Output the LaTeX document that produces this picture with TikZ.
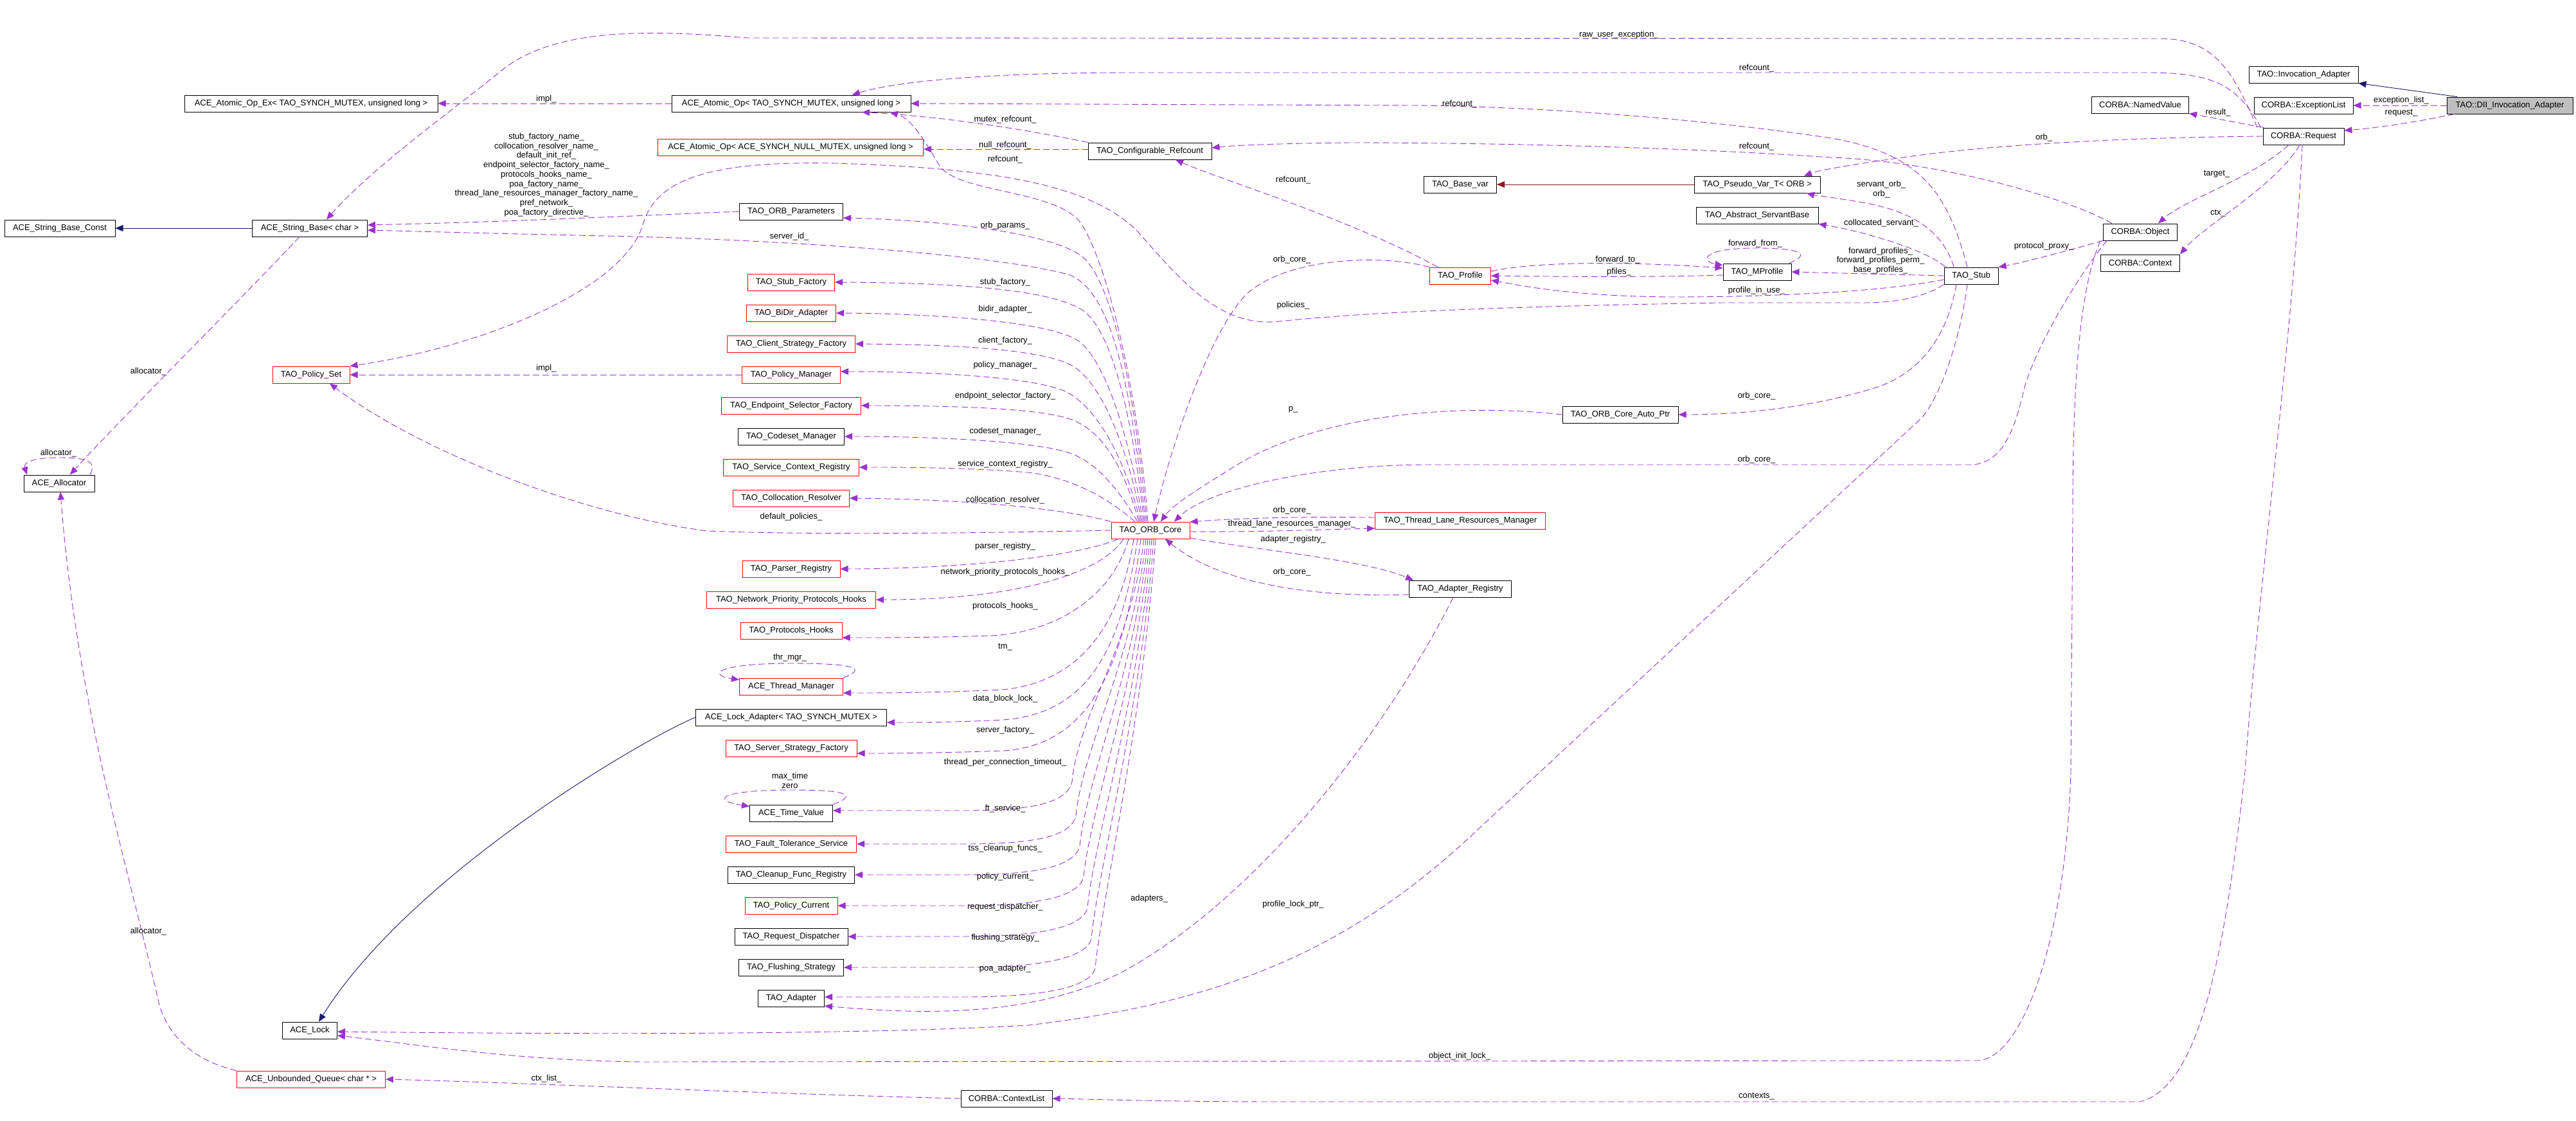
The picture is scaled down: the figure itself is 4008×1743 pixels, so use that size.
\documentclass[tikz,border=0pt]{standalone}
\usepackage{fontspec}
\setmainfont{Liberation Sans}
\usetikzlibrary{arrows.meta}
\definecolor{edgec}{HTML}{9A32CD}
\definecolor{inhc}{HTML}{191970}
\definecolor{tmplc}{HTML}{8B1A1A}
\definecolor{maing}{HTML}{BFBFBF}
\newcommand\dxf{\fontsize{13}{14.7}\selectfont}
\tikzset{
 cls/.style={draw=black, fill=white, line width=1pt, minimum height=26pt, inner sep=0pt, font=\dxf},
 rcls/.style={cls, draw=red},
 mcls/.style={cls, fill=maing},
 use/.style={draw=edgec, line width=0.9pt, dash pattern=on 10pt off 5pt, -{Triangle[length=12pt,width=10pt]}},
 inh/.style={draw=inhc, line width=0.9pt, -{Triangle[length=12pt,width=10pt]}},
 tmpl/.style={draw=tmplc, line width=0.9pt, -{Triangle[length=12pt,width=10pt]}},
 lbl/.style={font=\dxf, inner sep=0pt, align=center},
}
\begin{document}
\begin{tikzpicture}[x=1pt,y=-1pt]
\useasboundingbox (0,0) rectangle (4008,1743);
\fill[white] (0,0) rectangle (4008,1743);

% ---------- nodes ----------
\node[mcls,minimum width=196pt] (dii) at (3905,164) {TAO::DII\_Invocation\_Adapter};
\node[cls,minimum width=170pt] (invad) at (3584,116) {TAO::Invocation\_Adapter};
\node[cls,minimum width=154pt] (exlist) at (3584,164) {CORBA::ExceptionList};
\node[cls,minimum width=151pt] (namedval) at (3330,163) {CORBA::NamedValue};
\node[cls,minimum width=126pt] (request) at (3584,212) {CORBA::Request};
\node[cls,minimum width=115pt] (object) at (3330,361) {CORBA::Object};
\node[cls,minimum width=123pt] (context) at (3330,409) {CORBA::Context};
\node[cls,minimum width=84pt] (stub) at (3067,429) {TAO\_Stub};
\node[cls,minimum width=106pt] (mprofile) at (2734,423) {TAO\_MProfile};
\node[cls,minimum width=196pt] (pseudo) at (2734,287) {TAO\_Pseudo\_Var\_T< ORB >};
\node[cls,minimum width=190pt] (servant) at (2734,335) {TAO\_Abstract\_ServantBase};
\node[cls,minimum width=113pt] (basevar) at (2272,287) {TAO\_Base\_var};
\node[rcls,minimum width=95pt] (profile) at (2272,429) {TAO\_Profile};
\node[cls,minimum width=192pt] (confref) at (1789,235) {TAO\_Configurable\_Refcount};
\node[cls,minimum width=372pt] (atomic) at (1231,161) {ACE\_Atomic\_Op< TAO\_SYNCH\_MUTEX, unsigned long >};
\node[rcls,minimum width=413pt] (atomicnull) at (1230,229) {ACE\_Atomic\_Op< ACE\_SYNCH\_NULL\_MUTEX, unsigned long >};
\node[cls,minimum width=394pt] (atomicex) at (484,161) {ACE\_Atomic\_Op\_Ex< TAO\_SYNCH\_MUTEX, unsigned long >};
\node[cls,minimum width=172pt] (strconst) at (93,355) {ACE\_String\_Base\_Const};
\node[cls,minimum width=179pt] (strbase) at (482,355) {ACE\_String\_Base< char >};
\node[cls,minimum width=110pt] (allocator) at (92,752) {ACE\_Allocator};
\node[rcls,minimum width=120pt] (policyset) at (484,583) {TAO\_Policy\_Set};
\node[cls,minimum width=161pt] (orbparams) at (1231,329) {TAO\_ORB\_Parameters};
\node[rcls,minimum width=135pt] (stubfac) at (1231,439) {TAO\_Stub\_Factory};
\node[rcls,minimum width=139pt] (bidir) at (1231,487) {TAO\_BiDir\_Adapter};
\node[rcls,minimum width=199pt] (clientfac) at (1231,535) {TAO\_Client\_Strategy\_Factory};
\node[rcls,minimum width=153pt] (policymgr) at (1231,583) {TAO\_Policy\_Manager};
\node[rcls,minimum width=217pt] (endpoint) at (1231,631) {TAO\_Endpoint\_Selector\_Factory};
\node[cls,minimum width=165pt] (codeset) at (1231,679) {TAO\_Codeset\_Manager};
\node[rcls,minimum width=211pt] (servctx) at (1231,727) {TAO\_Service\_Context\_Registry};
\node[rcls,minimum width=181pt] (colloc) at (1231,775) {TAO\_Collocation\_Resolver};
\node[rcls,minimum width=122pt] (orbcore) at (1790,825) {TAO\_ORB\_Core};
\node[rcls,minimum width=152pt] (parser) at (1231,885) {TAO\_Parser\_Registry};
\node[rcls,minimum width=263pt] (netprio) at (1231,933) {TAO\_Network\_Priority\_Protocols\_Hooks};
\node[rcls,minimum width=158pt] (protohooks) at (1231,981) {TAO\_Protocols\_Hooks};
\node[rcls,minimum width=161pt] (thrmgr) at (1231,1068) {ACE\_Thread\_Manager};
\node[cls,minimum width=297pt] (lockad) at (1231,1116) {ACE\_Lock\_Adapter< TAO\_SYNCH\_MUTEX >};
\node[rcls,minimum width=204pt] (serverfac) at (1231,1164) {TAO\_Server\_Strategy\_Factory};
\node[cls,minimum width=129pt] (timeval) at (1231,1265) {ACE\_Time\_Value};
\node[rcls,minimum width=203pt] (ftserv) at (1231,1313) {TAO\_Fault\_Tolerance\_Service};
\node[cls,minimum width=197pt] (cleanup) at (1231,1361) {TAO\_Cleanup\_Func\_Registry};
\node[rcls,minimum width=144pt] (polcur) at (1231,1409) {TAO\_Policy\_Current};
\node[cls,minimum width=176pt] (reqdisp) at (1231,1457) {TAO\_Request\_Dispatcher};
\node[cls,minimum width=163pt] (flushing) at (1231,1505) {TAO\_Flushing\_Strategy};
\node[cls,minimum width=103pt] (adapter) at (1231,1553) {TAO\_Adapter};
\node[cls,minimum width=85pt] (acelock) at (482,1603) {ACE\_Lock};
\node[rcls,minimum width=231pt] (unbq) at (484,1679) {ACE\_Unbounded\_Queue< char * >};
\node[cls,minimum width=142pt] (ctxlist) at (1566,1709) {CORBA::ContextList};
\node[rcls,minimum width=265pt] (tlrm) at (2272,810) {TAO\_Thread\_Lane\_Resources\_Manager};
\node[cls,minimum width=159pt] (adreg) at (2272,916) {TAO\_Adapter\_Registry};
\node[cls,minimum width=180pt] (autoptr) at (2521,645) {TAO\_ORB\_Core\_Auto\_Ptr};

% ---------- inheritance ----------
\draw[inh] (strbase.west) -- (strconst.east);
\draw[inh] ([xshift=-82pt]dii.north) -- (invad.south east);
\draw[inh] (lockad.west) .. controls (1000,1150) and (640,1360) .. ([xshift=14pt]acelock.north);
\draw[tmpl] (pseudo.west) -- (basevar.east);

% ---------- DII ----------
\draw[use] (dii.west) -- (exlist.east);
\draw[use] ([xshift=-86pt]dii.south) .. controls (3760,190) and (3690,200) .. ([yshift=9pt]request.east);

% ---------- Request ----------
\draw[use] ([xshift=-62pt]request.north) -- (namedval.south east);
\draw[use] ([xshift=-23pt]request.south) .. controls (3500,280) and (3400,310) .. ([xshift=28pt]object.north);
\draw[use] ([xshift=-6pt]request.south) .. controls (3540,290) and (3430,350) .. (context.north east);
\draw[use] (request.west) .. controls (3300,214) and (3100,225) .. (2960,245) .. controls (2880,256) and (2830,265) .. ([xshift=73pt]pseudo.north);
\draw[use] ([xshift=-72pt]request.north) .. controls (3470,100) and (3440,60) .. (3358,60) -- (1162,59) .. controls (1000,45) and (860,45) .. (780,110) .. controls (700,175) and (580,260) .. ([xshift=26pt]strbase.north);
\draw[use] ([xshift=-66pt]request.north) .. controls (3480,130) and (3440,113) .. (3341,113) -- (1767,113) .. controls (1550,113) and (1400,125) .. ([xshift=95pt]atomic.north);
\draw[use] ([xshift=-2pt]request.south) .. controls (3570,500) and (3510,950) .. (3493,1200) .. controls (3460,1500) and (3420,1690) .. (3330,1714) -- (2000,1714) .. controls (1800,1714) and (1700,1710) .. (ctxlist.east);

% ---------- Object ----------
\draw[use] (object.south west) .. controls (3200,395) and (3140,410) .. (stub.north east);
\draw[use] ([xshift=-44pt]object.north) .. controls (3200,300) and (3000,250) .. (2849,245) .. controls (2600,228) and (2300,222) .. (2100,222) .. controls (2000,223) and (1920,226) .. ([yshift=5pt]confref.east);
\draw[use] ([xshift=-52pt]object.south) .. controls (3240,420) and (3165,540) .. (3148,610) .. controls (3132,680) and (3110,723) .. (3065,723) -- (2220,723) .. controls (2050,723) and (1880,760) .. ([xshift=37pt]orbcore.north);
\draw[use] ([xshift=-62pt]object.south) .. controls (3235,450) and (3225,600) .. (3225,800) -- (3222,1200) .. controls (3215,1450) and (3150,1645) .. (3078,1650) -- (1000,1652) .. controls (800,1650) and (650,1625) .. ([yshift=-8pt]acelock.east);

% ---------- Stub ----------
\draw[use] ([xshift=-6pt]stub.north) .. controls (3030,300) and (2990,240) .. (2850,215) .. controls (2650,185) and (2400,166) .. (2200,164) -- (atomic.east);
\draw[use] ([xshift=-27pt]stub.north) .. controls (3020,350) and (2960,325) .. (2892,314) .. controls (2850,307) and (2820,303) .. ([xshift=77pt]pseudo.south);
\draw[use] ([xshift=-40pt]stub.north) .. controls (3000,390) and (2900,360) .. (servant.south east);
\draw[use] (stub.west) -- (mprofile.east);
\draw[use] ([yshift=-6pt]stub.west) .. controls (2950,450) and (2800,462) .. (2600,462) .. controls (2450,461) and (2370,445) .. ([yshift=-7pt]profile.east);
\draw[use] (stub.south west) .. controls (2995,462) and (2950,471) .. (2900,471) -- (2680,471) .. controls (2400,476) and (2150,483) .. (1990,500) .. controls (1900,510) and (1840,440) .. (1770,360) .. controls (1700,290) and (1560,262) .. (1300,254) .. controls (1100,250) and (1020,280) .. (1000,350) .. controls (970,450) and (750,540) .. (policyset.north east);
\draw[use] ([xshift=-23pt]stub.south) .. controls (3030,520) and (2990,585) .. (2905,607) .. controls (2820,632) and (2720,645) .. (autoptr.east);
\draw[use] ([xshift=-6pt]stub.south) .. controls (3048,540) and (3015,622) .. (2990,650) -- (2300,1290) .. controls (2100,1480) and (1900,1560) .. (1600,1595) .. controls (1300,1612) and (800,1608) .. ([yshift=-2pt]acelock.east);

% ---------- MProfile / Profile ----------
\draw[use] ([xshift=-4pt]mprofile.north east) .. controls (2820,395) and (2800,386) .. (2733,386) .. controls (2640,386) and (2650,408) .. ([yshift=-3pt]mprofile.north west);
\draw[use] ([yshift=-5pt]mprofile.west) .. controls (2550,432) and (2400,430) .. (profile.east);
\draw[use] ([yshift=7pt]profile.east) .. controls (2400,405) and (2550,408) .. ([yshift=6pt]mprofile.west);
\draw[use] ([xshift=-35pt]profile.north) .. controls (2100,340) and (1900,280) .. ([xshift=40pt]confref.south);
\draw[use] (profile.north west) .. controls (2150,395) and (2000,400) .. (1938,459) .. controls (1880,520) and (1820,700) .. ([xshift=5pt]orbcore.north);

% ---------- Refcount / Atomic ----------
\draw[use] (confref.north west) .. controls (1580,198) and (1450,180) .. ([xshift=110pt]atomic.south);
\draw[use] ([yshift=3pt]confref.west) -- ([yshift=-3pt]atomicnull.east);
\draw[use] (atomic.west) -- (atomicex.east);
\draw[use] (policymgr.west) -- (policyset.east);
\draw[use] (orbparams.west) .. controls (1000,335) and (800,345) .. ([yshift=5pt]strbase.east);

% ---------- Allocator ----------
\draw[use] ([xshift=-16pt]strbase.south) .. controls (380,460) and (180,660) .. ([xshift=17pt]allocator.north);
\draw[use] ([xshift=48pt]allocator.north) .. controls (152,716) and (132,712) .. (92,712) .. controls (50,712) and (36,720) .. ([xshift=-50pt]allocator.north);
\draw[use] (unbq.north west) .. controls (300,1650) and (262,1610) .. (248,1564) .. controls (200,1350) and (120,1100) .. ([xshift=2pt]allocator.south);
\draw[use] (ctxlist.west) .. controls (1200,1702) and (800,1684) .. (unbq.east);

% ---------- ORB_Core right side ----------
\draw[use] (orbcore.west) .. controls (1500,830) and (1250,832) .. (1100,826) .. controls (900,800) and (650,700) .. ([xshift=29pt]policyset.south);
\draw[use] ([yshift=5pt]tlrm.west) .. controls (2000,803) and (1900,808) .. ([yshift=13pt]orbcore.east);
\draw[use] ([yshift=-2pt]orbcore.east) .. controls (1950,828) and (2050,824) .. ([yshift=-12pt]tlrm.west);
\draw[use] ([yshift=-12pt]orbcore.east) .. controls (1950,855) and (2120,870) .. ([xshift=-73pt]adreg.north);
\draw[use] ([yshift=-9pt]adreg.west) .. controls (2050,930) and (1900,910) .. ([xshift=23pt]orbcore.south);
\draw[use] (autoptr.west) .. controls (2250,625) and (2050,650) .. (1930,720) .. controls (1865,760) and (1825,785) .. ([xshift=16pt]orbcore.north);
\draw[use] ([xshift=-11pt]adreg.south) .. controls (2150,1150) and (1950,1400) .. (1750,1510) .. controls (1600,1590) and (1400,1575) .. ([yshift=-12pt]adapter.east);

% ---------- ORB_Core upper fan ----------
\draw[use] ([xshift=-4pt]orbcore.north) .. controls (1770,600) and (1720,400) .. (1680,345) .. controls (1640,295) and (1490,300) .. (1462,258) .. controls (1442,225) and (1420,185) .. ([xshift=154pt]atomic.south);
\draw[use] ([xshift=-8pt]orbcore.north) .. controls (1760,600) and (1730,455) .. (1665,428) .. controls (1550,395) and (1200,372) .. (940,367) .. controls (800,364) and (650,360) .. ([yshift=-3pt]strbase.east);
\draw[use] ([xshift=-6pt]orbcore.north) .. controls (1765,600) and (1730,440) .. (1685,400) .. controls (1635,360) and (1450,342) .. ([yshift=-10pt]orbparams.east);
\draw[use] ([xshift=-10pt]orbcore.north) .. controls (1762,650) and (1732,525) .. (1690,487) .. controls (1650,452) and (1500,440) .. (stubfac.east);
\draw[use] ([xshift=-12pt]orbcore.north) .. controls (1760,690) and (1722,565) .. (1680,532) .. controls (1640,500) and (1450,488) .. (bidir.east);
\draw[use] ([xshift=-14pt]orbcore.north) .. controls (1758,710) and (1718,600) .. (1670,570) .. controls (1620,540) and (1450,536) .. (clientfac.east);
\draw[use] ([xshift=-16pt]orbcore.north) .. controls (1755,730) and (1715,640) .. (1660,610) .. controls (1600,582) and (1400,578) .. ([yshift=5pt]policymgr.east);
\draw[use] ([xshift=-18pt]orbcore.north) .. controls (1752,740) and (1722,672) .. (1665,652) .. controls (1610,633) and (1450,631) .. (endpoint.east);
\draw[use] ([xshift=-20pt]orbcore.north) .. controls (1745,770) and (1712,722) .. (1665,705) .. controls (1610,686) and (1450,679) .. (codeset.east);
\draw[use] ([xshift=-24pt]orbcore.north) .. controls (1735,785) and (1680,745) .. (1600,735) .. controls (1500,727) and (1400,727) .. (servctx.east);
\draw[use] (orbcore.north west) .. controls (1650,790) and (1500,777) .. (colloc.east);

% ---------- ORB_Core lower fan ----------
\draw[use] ([xshift=-50pt]orbcore.south) .. controls (1680,865) and (1500,885) .. (parser.east);
\draw[use] ([xshift=-42pt]orbcore.south) .. controls (1715,890) and (1590,933) .. (netprio.east);
\draw[use] ([xshift=-34pt]orbcore.south) .. controls (1730,930) and (1640,985) .. (1540,989) .. controls (1450,992) and (1380,992) .. ([yshift=-11pt]protohooks.east);
\draw[use] ([xshift=-26pt]orbcore.south) .. controls (1745,960) and (1690,1060) .. (1560,1073) .. controls (1450,1078) and (1380,1078) .. ([yshift=-10pt]thrmgr.east);
\draw[use] ([xshift=-20pt]orbcore.south) .. controls (1745,1000) and (1700,1110) .. (1560,1120) .. controls (1480,1124) and (1420,1124) .. ([yshift=-8pt]lockad.east);
\draw[use] ([xshift=-15pt]orbcore.south) .. controls (1750,1030) and (1700,1160) .. (1560,1168) .. controls (1450,1172) and (1380,1172) .. ([yshift=-8pt]serverfac.east);
\draw[use] ([xshift=-10pt]orbcore.south) .. controls (1760,1007) and (1678,1111) .. (1668,1216) .. controls (1660,1251) and (1600,1261) .. (1500,1261) -- ([yshift=4pt]timeval.east);
\draw[use] ([xshift=-7pt]orbcore.south) .. controls (1763,1028) and (1684,1164) .. (1674,1269) .. controls (1666,1304) and (1600,1313) .. (1500,1313) -- (ftserv.east);
\draw[use] ([xshift=-4pt]orbcore.south) .. controls (1766,1047) and (1690,1211) .. (1680,1316) .. controls (1672,1351) and (1600,1361) .. (1500,1361) -- (cleanup.east);
\draw[use] ([xshift=-1pt]orbcore.south) .. controls (1769,1066) and (1696,1259) .. (1686,1364) .. controls (1678,1399) and (1600,1409) .. (1500,1409) -- (polcur.east);
\draw[use] ([xshift=2pt]orbcore.south) .. controls (1772,1086) and (1702,1307) .. (1692,1412) .. controls (1684,1447) and (1600,1457) .. (1500,1457) -- (reqdisp.east);
\draw[use] ([xshift=5pt]orbcore.south) .. controls (1775,1105) and (1708,1355) .. (1698,1460) .. controls (1690,1495) and (1600,1505) .. (1500,1505) -- (flushing.east);
\draw[use] ([xshift=8pt]orbcore.south) .. controls (1778,1123) and (1714,1401) .. (1704,1506) .. controls (1696,1541) and (1600,1551) .. (1500,1551) -- ([yshift=2pt]adapter.east);

% ---------- self loops ----------
\draw[use] (thrmgr.north east) .. controls (1355,1038) and (1320,1032) .. (1231,1032) .. controls (1115,1032) and (1100,1050) .. ([yshift=-3pt]thrmgr.north west);
\draw[use] (timeval.north east) .. controls (1340,1235) and (1310,1229) .. (1231,1229) .. controls (1120,1229) and (1105,1245) .. ([yshift=-3pt]timeval.north west);

% ---------- labels ----------
\node[lbl] (l1) at (2519,54) {raw\_user\_exception\_};
\node[lbl] (l2) at (2733,106) {refcount\_};
\node[lbl] (l3) at (850,154) {impl\_};
\node[lbl] (l4) at (2271,162) {refcount\_};
\node[lbl] (l5) at (3736,156) {exception\_list\_};
\node[lbl] (l6) at (3736,176) {request\_};
\node[lbl] (l7) at (3451,175) {result\_};
\node[lbl] (l8) at (1564,186) {mutex\_refcount\_};
\node[lbl] (l9) at (3180,214) {orb\_};
\node[lbl] (l10) at (1564,226) {null\_refcount\_};
\node[lbl] (l11) at (1564,248) {refcount\_};
\node[lbl] (l12) at (2733,228) {refcount\_};
\node[lbl] (l13) at (3449,271) {target\_};
\node[lbl] (l14) at (2012,280) {refcount\_};
\node[lbl] (l15) at (2927,294.5) {servant\_orb\_\\orb\_};
\node[lbl] (l16) at (3451,332) {ctx\_};
\node[lbl] (l17) at (2927,347) {collocated\_servant\_};
\node[lbl] (l18) at (1564,351) {orb\_params\_};
\node[lbl] (l19) at (1228,368) {server\_id\_};
\node[lbl] (l20) at (2731,379) {forward\_from\_};
\node[lbl] (l21) at (3180,383) {protocol\_proxy\_};
\node[lbl] (l22) at (2926,405.5) {forward\_profiles\_\\forward\_profiles\_perm\_\\base\_profiles\_};
\node[lbl] (l23) at (2010,404) {orb\_core\_};
\node[lbl] (l24) at (2517,404) {forward\_to\_};
\node[lbl] (l25) at (2519,423) {pfiles\_};
\node[lbl] (l26) at (1564,439) {stub\_factory\_};
\node[lbl] (l27) at (2733,452) {profile\_in\_use\_};
\node[lbl] (l28) at (2012,475) {policies\_};
\node[lbl] (l29) at (1564,481) {bidir\_adapter\_};
\node[lbl] (l30) at (1564,530) {client\_factory\_};
\node[lbl] (l31) at (1564,568) {policy\_manager\_};
\node[lbl] (l32) at (850,573) {impl\_};
\node[lbl] (l33) at (231,578) {allocator\_};
\node[lbl] (l34) at (850,272) {stub\_factory\_name\_\\collocation\_resolver\_name\_\\default\_init\_ref\_\\endpoint\_selector\_factory\_name\_\\protocols\_hooks\_name\_\\poa\_factory\_name\_\\thread\_lane\_resources\_manager\_factory\_name\_\\pref\_network\_\\poa\_factory\_directive\_};
\node[lbl] (l35) at (1564,616) {endpoint\_selector\_factory\_};
\node[lbl] (l36) at (2733,616) {orb\_core\_};
\node[lbl] (l37) at (2012,637) {p\_};
\node[lbl] (l38) at (1564,671) {codeset\_manager\_};
\node[lbl] (l39) at (91,705) {allocator\_};
\node[lbl] (l40) at (2733,715) {orb\_core\_};
\node[lbl] (l41) at (1564,722) {service\_context\_registry\_};
\node[lbl] (l42) at (1564,778) {collocation\_resolver\_};
\node[lbl] (l43) at (2010,794) {orb\_core\_};
\node[lbl] (l44) at (1231,804) {default\_policies\_};
\node[lbl] (l45) at (2010,815) {thread\_lane\_resources\_manager\_};
\node[lbl] (l46) at (2012,839) {adapter\_registry\_};
\node[lbl] (l47) at (1564,850) {parser\_registry\_};
\node[lbl] (l48) at (1564,890) {network\_priority\_protocols\_hooks\_};
\node[lbl] (l49) at (2010,890) {orb\_core\_};
\node[lbl] (l50) at (1564,943) {protocols\_hooks\_};
\node[lbl] (l51) at (1564,1007) {tm\_};
\node[lbl] (l52) at (1229,1023) {thr\_mgr\_};
\node[lbl] (l53) at (1564,1087) {data\_block\_lock\_};
\node[lbl] (l54) at (1564,1136) {server\_factory\_};
\node[lbl] (l55) at (1564,1186) {thread\_per\_connection\_timeout\_};
\node[lbl] (l56) at (1229,1214.5) {max\_time\\zero};
\node[lbl] (l57) at (1564,1258) {ft\_service\_};
\node[lbl] (l58) at (1564,1320) {tss\_cleanup\_funcs\_};
\node[lbl] (l59) at (1564,1364) {policy\_current\_};
\node[lbl] (l60) at (1788,1398) {adapters\_};
\node[lbl] (l61) at (2012,1407) {profile\_lock\_ptr\_};
\node[lbl] (l62) at (1564,1411) {request\_dispatcher\_};
\node[lbl] (l63) at (231,1449) {allocator\_};
\node[lbl] (l64) at (1564,1459) {flushing\_strategy\_};
\node[lbl] (l65) at (1564,1507) {poa\_adapter\_};
\node[lbl] (l66) at (2271,1643) {object\_init\_lock\_};
\node[lbl] (l67) at (850,1678) {ctx\_list\_};
\node[lbl] (l68) at (2733,1706) {contexts\_};
\end{tikzpicture}
\end{document}
